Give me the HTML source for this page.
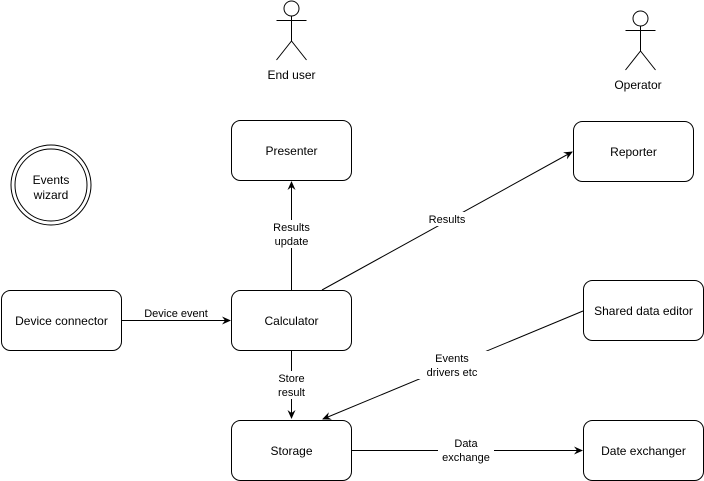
<!DOCTYPE html>
<html><head><style>body{margin:0;background:#fff}svg{display:block}text{font-family:"Liberation Sans",Arial,sans-serif;fill:#000}</style></head><body>
<svg width="704" height="481" viewBox="0 0 704 481" xmlns="http://www.w3.org/2000/svg">
<defs><marker id="a" markerWidth="10" markerHeight="10" refX="8" refY="5" orient="auto" markerUnits="userSpaceOnUse"><path d="M0,1 L9,5 L0,9 L3,5 Z" fill="#000"/></marker></defs>
<g fill="#fff" stroke="#000" stroke-width="1">
<rect x="231.5" y="120.5" width="120" height="60" rx="9"/>
<rect x="231.5" y="290.5" width="120" height="60" rx="9"/>
<rect x="231.5" y="420.5" width="120" height="60" rx="9"/>
<rect x="1.5" y="290.5" width="120" height="60" rx="9"/>
<rect x="573.5" y="121.5" width="120" height="60" rx="9"/>
<rect x="583.5" y="280.5" width="120" height="60" rx="9"/>
<rect x="583.5" y="420.5" width="120" height="60" rx="9"/>
<circle cx="51" cy="185" r="40"/><circle cx="51" cy="185" r="36"/>
<circle cx="291.5" cy="8.5" r="7.5"/>
<path d="M291.5 16v25M276.5 20.5h30M276.5 60l15-19 15 19" fill="none"/>
<circle cx="640.5" cy="18.5" r="7.5"/>
<path d="M640.5 26v25M625.5 30.5h30M625.5 70l15-19 15 19" fill="none"/>
</g>
<g stroke="#000" fill="none">
<line x1="291.5" y1="290" x2="291.5" y2="182" marker-end="url(#a)"/>
<line x1="322" y1="290" x2="572" y2="152" marker-end="url(#a)"/>
<line x1="121" y1="320.5" x2="230" y2="320.5" marker-end="url(#a)"/>
<line x1="291.5" y1="350" x2="291.5" y2="418" marker-end="url(#a)"/>
<line x1="583" y1="311" x2="323" y2="419" marker-end="url(#a)"/>
<line x1="351" y1="450.5" x2="582" y2="450.5" marker-end="url(#a)"/>
</g>
<g fill="#fff">
<rect x="268" y="220" width="46" height="28"/>
<rect x="425" y="212" width="44" height="14"/>
<rect x="143" y="306" width="66" height="14"/>
<rect x="273" y="371" width="38" height="28"/>
<rect x="414" y="351" width="78" height="28"/>
<rect x="438" y="436" width="56" height="28"/>
</g>
<g font-size="12" text-anchor="middle">
<text x="291.5" y="155">Presenter</text>
<text x="291.5" y="325">Calculator</text>
<text x="291.5" y="455">Storage</text>
<text x="61.5" y="325">Device connector</text>
<text x="633.5" y="156">Reporter</text>
<text x="643.5" y="315">Shared data editor</text>
<text x="643.5" y="455">Date exchanger</text>
<text x="51" y="184">Events</text><text x="51" y="199">wizard</text>
<text x="291.5" y="79">End user</text>
<text x="638" y="89">Operator</text>
</g>
<g font-size="11" text-anchor="middle">
<text x="291.5" y="231">Results</text><text x="291.5" y="245">update</text>
<text x="447" y="223">Results</text>
<text x="176" y="317">Device event</text>
<text x="291.5" y="382">Store</text><text x="291.5" y="396">result</text>
<text x="452" y="362">Events</text><text x="452" y="376">drivers etc</text>
<text x="466" y="447">Data</text><text x="466" y="461">exchange</text>
</g>
</svg>
</body></html>
